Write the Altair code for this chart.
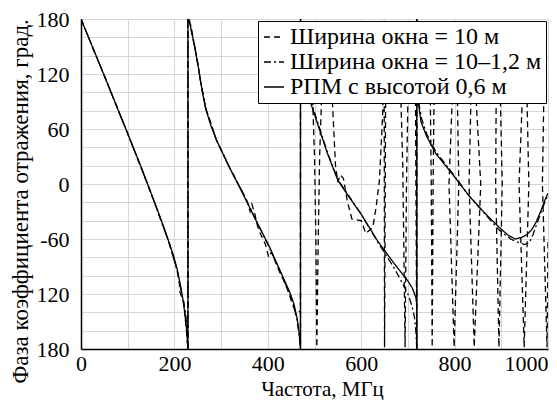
import altair as alt
import pandas as pd

series_names = ["Ширина окна = 10 м", "Ширина окна = 10–1,2 м", "РПМ с высотой 0,6 м"]

# Ширина окна = 10 м (dashed)
dash_f = [0, 50, 100, 150, 188, 205, 210, 212, 216, 220, 223, 226, 229,
          229, 232, 240, 248, 256, 267, 290, 318, 347, 355, 362, 366, 372, 378, 385, 395, 402, 408, 414, 420, 432, 446, 452, 458, 465, 470, 470,
          470, 480, 490, 496, 500, 503, 505, 508, 511, 515, 520, 530, 538, 545, 550, 555, 562, 570, 580, 600, 610, 625, 632, 639, 646, 649, 650, 653,
          665, 680, 685, 689, 694, 697, 700, 710, 716, 719,
          719, 722, 735, 748, 750, 752, 754, 756, 775, 795, 788, 799, 809, 806, 820, 835, 831, 842, 856, 846, 868, 889, 888, 895, 902, 898,
          920, 945, 938, 949, 959, 955, 972, 991, 988, 998, 1000]
dash_p = [180, 118, 55, -10, -63, -92, -105, -118, -124, -128, -145, -162, -180,
          180, 178, 158, 138, 112, 83, 48, 18, -10, -18, -30, -22, -32, -46, -55, -66, -80, -74, -82, -90, -103, -120, -130, -138, -138, -140, -180,
          180, 140, 115, 93, 30, -60, -178, -60, 30, 93, 140, 140, 93, 20, 2, 10, 6, -18, -38, -40, -54, -47, -25, 4, 76, 178, -178, 178,
          160, 130, 93, 20, -178, 0, 93, 150, 120, -180,
          180, 130, 140, 93, 0, -178, 0, 93, 160, 93, 0, -178, 0, 93, 165, 93, 0, -178, 0, 93, 165, 93, 0, -178, 0, 93,
          165, 93, 0, -178, 0, 93, 160, 93, 0, -178, -60]

# Ширина окна = 10–1,2 м (dash-dot)
dd_f = [0, 50, 100, 150, 188, 206, 214, 219, 224, 227, 229,
        229, 233, 240, 248, 256, 267, 290, 318, 347, 375, 404, 432, 447, 456, 463, 468, 470,
        470, 476, 483, 492, 500, 528, 550, 600, 635, 671, 690, 700, 708, 714, 717, 719,
        719, 721, 724, 730, 740, 760, 795, 831, 867, 895, 920, 938, 950, 960, 968, 980, 990, 1000]
dd_p = [180, 118, 55, -10, -63, -95, -115, -128, -140, -160, -180,
        180, 178, 160, 138, 112, 83, 48, 18, -10, -40, -70, -102, -120, -133, -150, -168, -180,
        180, 150, 118, 92, 78, 34, 5, -33, -63, -92, -110, -120, -132, -145, -160, -180,
        180, 110, 86, 70, 55, 35, 12, -13, -34, -50, -60, -64, -66, -64, -55, -38, -24, -12]

# РПМ с высотой 0,6 м (solid)
solid_f = [0, 50, 100, 130, 150, 165, 178, 188, 198, 206, 212, 218, 222, 226, 229,
           229, 233, 238, 244, 252, 260, 267, 278, 290, 318, 347, 375, 404, 432, 447, 456, 463, 467, 470,
           470, 474, 478, 484, 492, 500, 507, 528, 550, 575, 600, 635, 671, 699, 710, 717, 719, 719,
           719, 722, 728, 740, 760, 795, 831, 867, 895, 915, 930, 945, 955, 965, 975, 985, 993, 1000]
solid_p = [180, 118, 55, 17, -10, -30, -48, -63, -78, -93, -108, -125, -140, -158, -180,
           180, 176, 163, 148, 125, 100, 82, 64, 48, 18, -11, -40, -69, -101, -118, -131, -147, -162, -180,
           180, 150, 125, 105, 88, 76, 65, 33, 4, -15, -33, -62, -87, -105, -114, -124, -130, -180,
           180, 90, 68, 52, 33, 11, -13, -33, -47, -56, -60, -58, -55, -50, -41, -29, -18, -10]

x_ticks = list(range(0, 1001, 100))
y_ticks = list(range(-180, 181, 20))

rows = []
for name, fs, ps in zip(series_names, [dash_f, dd_f, solid_f], [dash_p, dd_p, solid_p]):
    for i, (f, p) in enumerate(zip(fs, ps)):
        rows.append({"f": f, "p": p, "s": name, "i": i})
df = pd.DataFrame(rows)

font = "Liberation Serif"

chart = alt.Chart(df).mark_line(clip=True, color="black").encode(
    x=alt.X("f:Q", scale=alt.Scale(domain=[0, 1000], nice=False, zero=False),
            axis=alt.Axis(values=x_ticks, title="Частота, МГц",
                          labelExpr="datum.value % 200 == 0 ? '' + datum.value : ''",
                          labelAlign={"condition": {"test": "datum.value == 1000", "value": "right"}, "value": "center"},
                          labelPadding=4, titlePadding=4, titleX=241, titleFontSize=21)),
    y=alt.Y("p:Q", scale=alt.Scale(domain=[-180, 180], nice=False),
            axis=alt.Axis(values=y_ticks, title="Фаза коэффициента отражения, град.",
                          labelExpr="datum.value % 60 != 0 ? '' : (datum.value == -60 ? '-60' : '' + abs(datum.value))",
                          labelPadding=12, titlePadding=4, titleY=182, titleFontSize=23)),
    strokeDash=alt.StrokeDash("s:N",
                              scale=alt.Scale(domain=series_names, range=[[6, 4], [7, 3, 2, 3], [1, 0]]),
                              legend=alt.Legend(title=None, orient="top-right", offset=2,
                                                fillColor="white", strokeColor="black", padding=4,
                                                labelFont=font, labelFontSize=24, labelColor="black",
                                                symbolSize=400, symbolStrokeWidth=1.5, symbolStrokeColor="black",
                                                symbolType="stroke", rowPadding=1, labelOffset=4, labelLimit=400)),
    strokeWidth=alt.StrokeWidth("s:N", scale=alt.Scale(domain=series_names, range=[1.3, 1.3, 1.7]), legend=None),
    order=alt.Order("i:Q"),
).properties(
    width=467, height=330,
    padding={"left": 73, "top": 11, "right": 1, "bottom": 51},
    autosize=alt.AutoSizeParams(type="none"),
).configure_view(
    stroke="#b0b0b0"
).configure_axis(
    domainColor="black", domainWidth=1.5, gridColor="#d6d6d6", gridWidth=1, ticks=False,
    labelFont=font, labelFontSize=22, labelColor="black",
    titleFont=font, titleFontWeight="normal", titleColor="black",
)

chart.save("out.html", embed_options={"renderer": "svg", "actions": False})
